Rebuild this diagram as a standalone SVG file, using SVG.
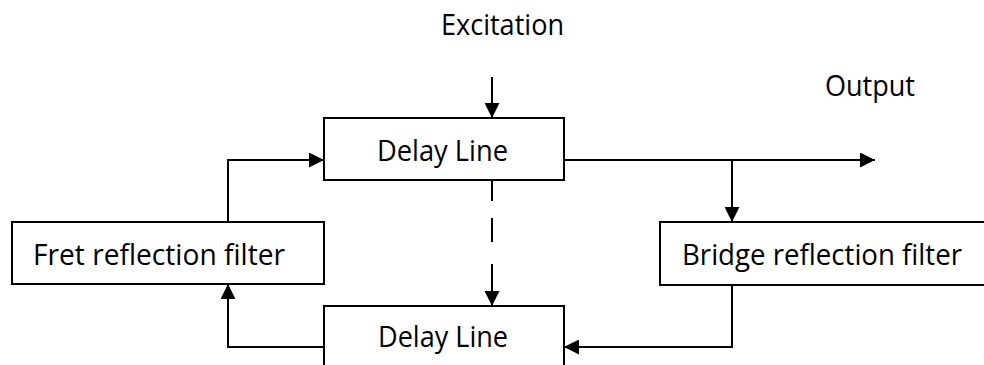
<svg xmlns="http://www.w3.org/2000/svg" width="984" height="365" viewBox="0 0 984 365">
  <style>
    .box { fill: #ffffff; stroke: #000000; stroke-width: 2; }
    .wire { fill: none; stroke: #000000; stroke-width: 2; }
    .lbl { font-family: "Open Sans", "Liberation Sans", sans-serif; font-size: 28.5px; fill: #000000; }
  </style>
  <defs>
    <marker id="arrow" viewBox="0 0 15 15" refX="15" refY="7.5" markerWidth="15" markerHeight="15" markerUnits="userSpaceOnUse" orient="auto">
      <path d="M0,0 L15,7.5 L0,15 Z" fill="#000000"/>
    </marker>
  </defs>

  <rect width="984" height="365" fill="#ffffff"/>

  <!-- free labels -->
  <text class="lbl" x="441" y="35" textLength="123" lengthAdjust="spacingAndGlyphs">Excitation</text>
  <text class="lbl" x="825" y="96" textLength="90" lengthAdjust="spacingAndGlyphs">Output</text>

  <!-- connectors -->
  <g id="connectors">
    <!-- excitation into the upper delay line -->
    <line class="wire" x1="492" y1="77" x2="492" y2="118" marker-end="url(#arrow)"/>
    <!-- upper delay line to output -->
    <line class="wire" x1="564" y1="160" x2="875" y2="160" marker-end="url(#arrow)"/>
    <!-- tap down to bridge filter -->
    <line class="wire" x1="732" y1="160" x2="732" y2="222" marker-end="url(#arrow)"/>
    <!-- bridge filter back into lower delay line -->
    <polyline class="wire" points="732,285 732,347 564,347" marker-end="url(#arrow)"/>
    <!-- lower delay line to fret filter -->
    <polyline class="wire" points="324,347 228,347 228,284" marker-end="url(#arrow)"/>
    <!-- fret filter into upper delay line -->
    <polyline class="wire" points="228,222 228,160 324,160" marker-end="url(#arrow)"/>
    <!-- dashed link between the two delay lines -->
    <line class="wire" x1="492" y1="180" x2="492" y2="306" stroke-dasharray="21 17 24 22 100" marker-end="url(#arrow)"/>
  </g>

  <!-- nodes -->
  <g id="delay-upper">
    <rect class="box" x="324" y="118" width="240" height="62"/>
    <text class="lbl" x="377" y="161" textLength="131" lengthAdjust="spacingAndGlyphs">Delay Line</text>
  </g>
  <g id="fret-filter">
    <rect class="box" x="12" y="222" width="312" height="62"/>
    <text class="lbl" x="33" y="265" textLength="252" lengthAdjust="spacingAndGlyphs">Fret reflection filter</text>
  </g>
  <g id="bridge-filter">
    <rect class="box" x="660" y="222" width="330" height="63"/>
    <text class="lbl" x="682" y="265" textLength="280" lengthAdjust="spacingAndGlyphs">Bridge reflection filter</text>
  </g>
  <g id="delay-lower">
    <rect class="box" x="324" y="306" width="240" height="70"/>
    <text class="lbl" x="378" y="347" textLength="130" lengthAdjust="spacingAndGlyphs">Delay Line</text>
  </g>
</svg>
